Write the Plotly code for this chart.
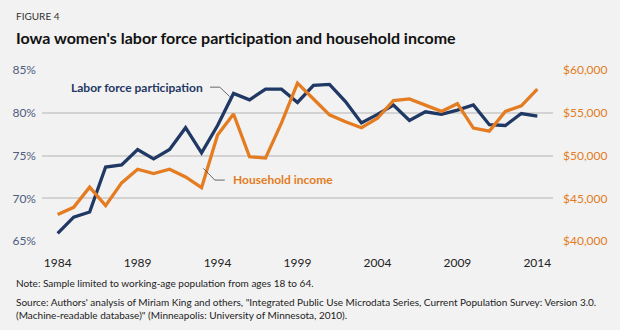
import plotly.graph_objects as go

years = list(range(1984, 2015))
labor_pct = [65.9, 67.8, 68.4, 73.65, 73.9, 75.7, 74.6, 75.7, 78.25, 75.3,
             78.5, 82.25, 81.5, 82.75, 82.75, 81.2, 83.2, 83.3, 81.3, 78.8,
             79.8, 80.9, 79.1, 80.1, 79.8, 80.3, 80.9, 78.6, 78.5, 79.9, 79.6]
income = [43100, 43950, 46300, 44150, 46800, 48400, 47900, 48400, 47500, 46250,
          52400, 54850, 49850, 49700, 53800, 58450, 56600, 54750, 53950, 53250,
          54350, 56400, 56600, 55850, 55150, 56050, 53200, 52850, 55150, 55800, 57750]

pct_ticks = [65, 70, 75, 80, 85]
inc_ticks = [40000, 45000, 50000, 55000, 60000]
year_ticks = [1984, 1989, 1994, 1999, 2004, 2009, 2014]

pct_labels = [f"{v}%" for v in pct_ticks]
inc_labels = [f"${v:,}" for v in inc_ticks]

NAVY = "#1f3864"
ORANGE = "#e47c22"
BG = "#f2f2f2"
FONT = "Lato"

fig = go.Figure()
fig.add_trace(go.Scatter(x=years, y=labor_pct, mode="lines",
                         line=dict(color=NAVY, width=3.3), yaxis="y",
                         hoverinfo="skip", showlegend=False))
fig.add_trace(go.Scatter(x=years, y=income, mode="lines",
                         line=dict(color=ORANGE, width=3.3), yaxis="y2",
                         hoverinfo="skip", showlegend=False))

fig.update_layout(
    width=620, height=330,
    margin=dict(l=39, r=61, t=69, b=88),
    paper_bgcolor=BG, plot_bgcolor=BG,
    font=dict(family=FONT, color="#222"),
    xaxis=dict(range=[1983.02, 2014.98], tickvals=year_ticks,
               showgrid=False, zeroline=False, showline=False, ticks="",
               tickfont=dict(size=12, color="#222"), ticklabelstandoff=12),
    yaxis=dict(range=[64.9, 85.1], tickvals=pct_ticks, ticktext=pct_labels,
               showgrid=True, gridcolor="#d3d3d3", gridwidth=1.6,
               zeroline=False, showline=False, ticks="",
               tickfont=dict(size=12, color="#4f5d7e"), ticklabelstandoff=5),
    yaxis2=dict(range=[39900, 60100], tickvals=inc_ticks, ticktext=inc_labels,
                overlaying="y", side="right",
                showgrid=False, zeroline=False, showline=False, ticks="",
                tickfont=dict(size=12, color=ORANGE), ticklabelstandoff=9),
)

# Leader lines (data coordinates)
fig.add_shape(type="path", xref="x", yref="y",
              path="M 1993.53 82.98 L 1994.14 82.98 L 1994.76 81.88",
              line=dict(color="#444", width=0.8))
fig.add_shape(type="path", xref="x", yref="y",
              path="M 1994.45 72.13 L 1993.83 72.13 L 1993.11 73.5",
              line=dict(color="#444", width=0.8))

fig.add_annotation(x=1993.2, y=82.95, xref="x", yref="y", text="<b>Labor force participation</b>",
                   showarrow=False, xanchor="right", yanchor="middle",
                   font=dict(size=12, color=NAVY, family=FONT))
fig.add_annotation(x=1994.85, y=72.2, xref="x", yref="y", text="<b>Household income</b>",
                   showarrow=False, xanchor="left", yanchor="middle",
                   font=dict(size=12, color=ORANGE, family=FONT))

# Titles
fig.add_annotation(x=0, y=0, xref="paper", yref="paper", text="FIGURE 4",
                   showarrow=False, xanchor="left", yanchor="middle",
                   font=dict(size=10, color="#333", family=FONT))
fig.add_annotation(x=0, y=0, xref="paper", yref="paper",
                   text="<b>Iowa women's labor force participation and household income</b>",
                   showarrow=False, xanchor="left", yanchor="middle",
                   font=dict(size=16, color="#111", family=FONT))

# Notes
fig.add_annotation(x=0, y=0, xref="paper", yref="paper",
                   text="Note: Sample limited to working-age population from ages 18 to 64.",
                   showarrow=False, xanchor="left", yanchor="middle",
                   font=dict(size=10, color="#222", family=FONT))
fig.add_annotation(x=0, y=0, xref="paper", yref="paper",
                   text=("Source: Authors' analysis of Miriam King and others, \"Integrated Public Use Microdata Series, Current Population Survey: Version 3.0.<br>"
                         "(Machine-readable database)\" (Minneapolis: University of Minnesota, 2010)."),
                   showarrow=False, xanchor="left", yanchor="top", align="left",
                   font=dict(size=10, color="#222", family=FONT))

# Position page-level annotations in pixel terms converted to paper coords
plot_w = 620 - 39 - 61
plot_h = 330 - 69 - 88
def px_to_paper(px, py):
    return (px - 39) / plot_w, (330 - 88 - py) / plot_h

anns = list(fig.layout.annotations)
positions = {2: (10, 16), 3: (10, 37), 4: (10, 283), 5: (10, 294)}
for i, (px, py) in positions.items():
    xp, yp = px_to_paper(px, py)
    anns[i].x = xp
    anns[i].y = yp
fig.layout.annotations = anns

fig.write_html("out.html")
